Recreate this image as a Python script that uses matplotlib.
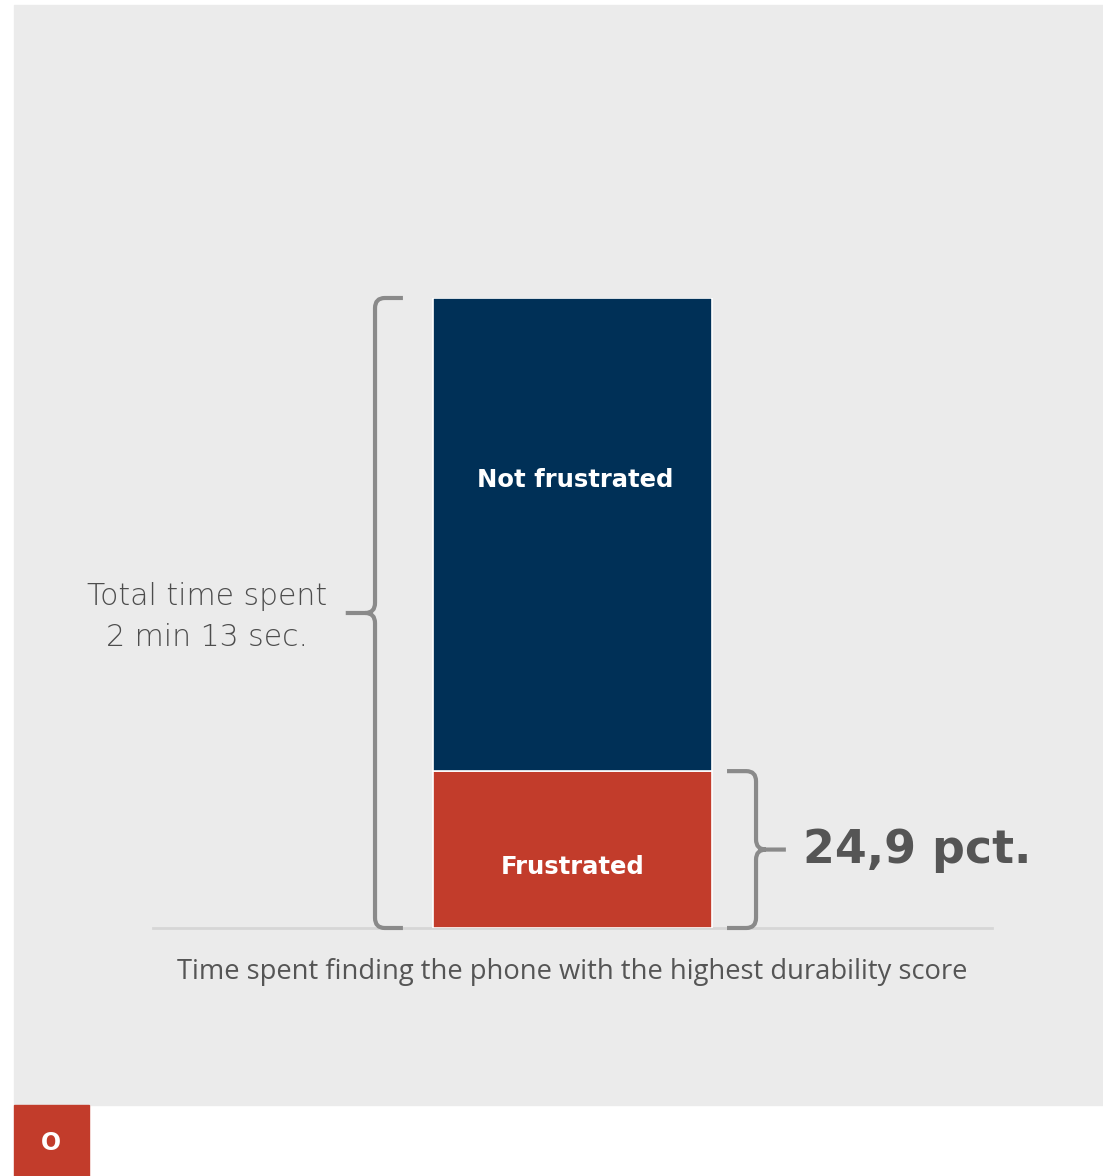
import matplotlib.pyplot as plt
from matplotlib.patches import Rectangle
from matplotlib.path import Path
from matplotlib.patches import PathPatch

# share of total time (percent)
segments = ["Frustrated", "Not frustrated"]
shares = [24.9, 75.1]
seg_colors = ["#c23c2b", "#003057"]
total_label = "Total time spent\n2 min 13 sec."
pct_label = "24,9 pct."
caption = "Time spent finding the phone with the highest durability score"

W, H = 1103, 1176
fig = plt.figure(figsize=(W / 100, H / 100), dpi=100)
fig.patch.set_facecolor("white")

# grey panel and the small red tab
fig.patches.append(Rectangle((14 / W, 71 / H), 1089 / W, 1100 / H,
                             transform=fig.transFigure, color="#ebebeb", zorder=-2))
fig.patches.append(Rectangle((14 / W, 0), 75 / W, 71 / H,
                             transform=fig.transFigure, color="#c23c2b", zorder=-2))
fig.text(51 / W, 33 / H, "O", color="white", fontsize=17, fontweight="bold",
         ha="center", va="center", family="DejaVu Sans")

ax = fig.add_axes([153 / W, 248 / H, 839 / W, 630 / H])
ax.set_zorder(1)
ax.set_facecolor("none")
ax.set_xlim(-1.504, 1.504)
ax.set_ylim(0, 100)
ax.axis("off")

bottom = 0
for name, val, col in zip(segments, shares, seg_colors):
    ax.bar(0, val, width=1, bottom=bottom, color=col, edgecolor="white", linewidth=1.2,
           zorder=3)
    bottom += val

ax.text(0.01, 71.1, "Not frustrated", color="white", fontsize=17.5, fontweight="bold",
        ha="center", va="center", family="DejaVu Sans", zorder=4)
ax.text(0.0, 9.7, "Frustrated", color="white", fontsize=17.5, fontweight="bold",
        ha="center", va="center", family="DejaVu Sans", zorder=4)

# baseline
ax.plot([-1.504, 1.504], [0, 0], color="#d6d6d6", lw=2, zorder=2, clip_on=False)


def brace(ax, x, y0, y1, end_dx, tip_dx, r=0.035, ry=1.6):
    # curly bracket: x is the spine, ends curl toward end_dx, tip points to tip_dx
    ym = (y0 + y1) / 2
    s = 1 if end_dx > 0 else -1
    t = 1 if tip_dx > 0 else -1
    verts = [
        (x + end_dx, y0), (x + s * r, y0), (x, y0), (x, y0 + ry),
        (x, ym - ry), (x, ym), (x + t * r, ym), (x + tip_dx, ym),
        (x + t * r, ym), (x, ym), (x, ym + ry),
        (x, y1 - ry), (x, y1), (x + s * r, y1), (x + end_dx, y1),
    ]
    codes = [Path.MOVETO, Path.LINETO, Path.CURVE3, Path.CURVE3,
             Path.LINETO, Path.CURVE3, Path.CURVE3, Path.LINETO,
             Path.MOVETO, Path.CURVE3, Path.CURVE3,
             Path.LINETO, Path.CURVE3, Path.CURVE3, Path.LINETO]
    p = PathPatch(Path(verts, codes), fill=False, edgecolor="#8a8a8a", lw=3,
                  clip_on=False, zorder=2, capstyle="butt", joinstyle="round")
    ax.add_patch(p)


brace(ax, -0.708, 0, sum(shares), 0.1, -0.105)
brace(ax, 0.658, 0, shares[0], -0.104, 0.107)

ax.text(-1.311, 49.4, total_label, color="#4d4d4d", fontsize=21.5, ha="center",
        va="center", family="DejaVu Sans", fontweight="light", linespacing=1.5)
ax.text(0.825, 12.3, pct_label, color="#555555", fontsize=33, fontweight="bold",
        ha="left", va="center", family="DejaVu Sans")

fig.text(572 / W, 204 / H, caption, color="#555555", fontsize=19.7, ha="center",
         va="center", family="Open Sans")

fig.savefig("out.png", dpi=100, facecolor="white")
